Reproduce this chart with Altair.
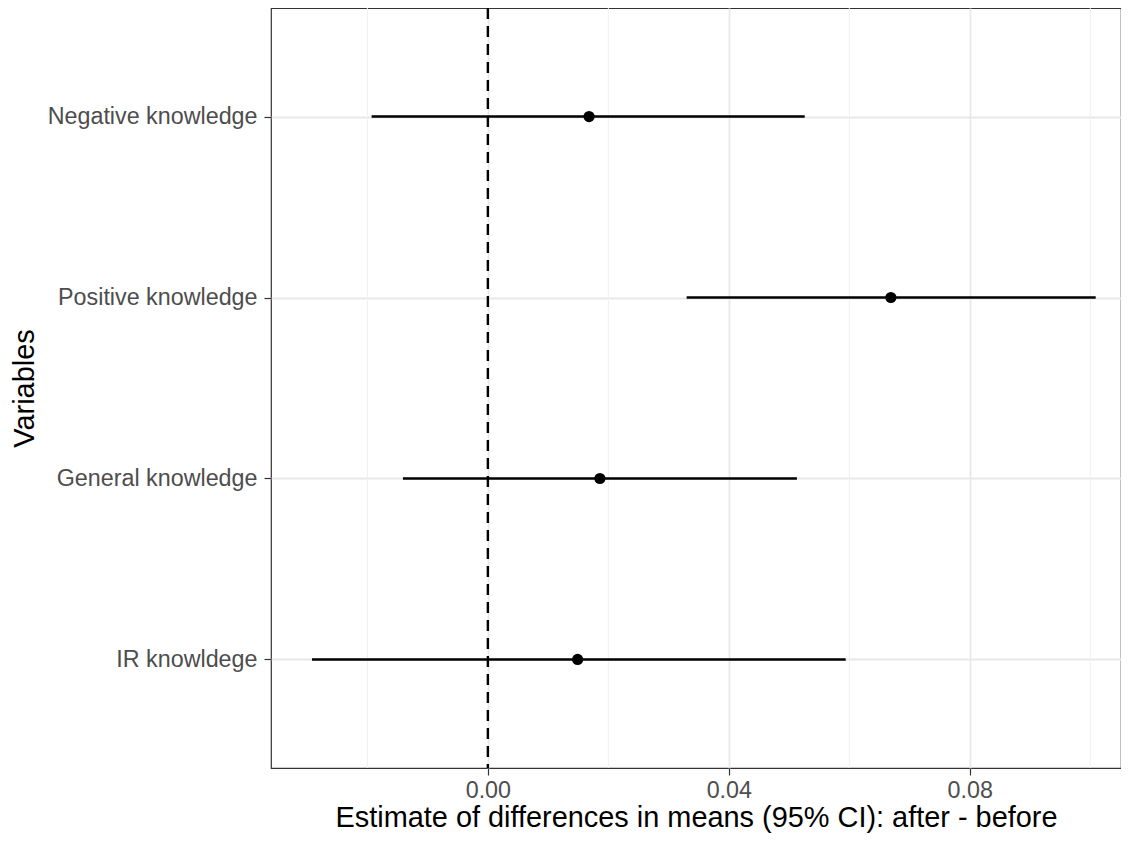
import altair as alt
import pandas as pd

variables = ["Negative knowledge", "Positive knowledge", "General knowledge", "IR knowldege"]
estimates = [0.0168, 0.0669, 0.0186, 0.0149]
lower = [-0.0193, 0.0330, -0.0141, -0.0292]
upper = [0.0526, 0.1009, 0.0513, 0.0594]
major_ticks = [0.00, 0.04, 0.08]
minor_ticks = [-0.02, 0.02, 0.06, 0.10]

df = pd.DataFrame({"var": variables, "est": estimates, "lo": lower, "hi": upper})
minor_df = pd.DataFrame({"x": minor_ticks})
zero_df = pd.DataFrame({"x": [0.0]})

FONT = "Liberation Sans"
xscale = alt.Scale(domain=[-0.0360, 0.1051], nice=False, zero=False)
yscale = alt.Scale(domain=variables, type="point", padding=0.6)

minor = alt.Chart(minor_df).mark_rule(color="#f0f0f0", strokeWidth=1).encode(
    x=alt.X("x:Q", scale=xscale)
)

base = alt.Chart(df)
ci = base.mark_rule(color="black", strokeWidth=2.5).encode(
    x=alt.X("lo:Q", scale=xscale,
            axis=alt.Axis(values=major_ticks, format=".2f",
                          title="Estimate of differences in means (95% CI): after - before",
                          grid=True, gridColor="#e8e8e8", gridWidth=1.8)),
    x2="hi:Q",
    y=alt.Y("var:N", scale=yscale, sort=variables,
            axis=alt.Axis(title="Variables", grid=True, gridColor="#e8e8e8", gridWidth=1.8)),
)
pts = base.mark_circle(color="black", size=125, opacity=1).encode(
    x=alt.X("est:Q", scale=xscale),
    y=alt.Y("var:N", scale=yscale, sort=variables),
)
zero = alt.Chart(zero_df).mark_rule(color="black", strokeWidth=2.4, strokeDash=[11, 7]).encode(
    x=alt.X("x:Q", scale=xscale)
)

chart = alt.layer(minor, ci, zero, pts).properties(
    width=850, height=760,
    autosize=alt.AutoSizeParams(type="none"),
    padding={"left": 263, "top": 0, "right": 0, "bottom": 66},
).configure_view(
    stroke="#333333", strokeWidth=1.2
).configure_axis(
    labelFont=FONT, titleFont=FONT,
    labelFontSize=23.3, titleFontSize=28.9,
    labelColor="#4d4d4d", titleColor="black",
    titleFontWeight="normal",
    tickColor="#333333", tickSize=7, tickWidth=1.2,
    domain=False, labelLimit=0,
).configure_axisX(
    labelPadding=4, titleY=58, titleBaseline="alphabetic",
).configure_axisY(
    labelPadding=7, titleX=-238, titleY=380, titleAngle=-90, titleBaseline="alphabetic",
)

chart.save("out.html", embed_options={"renderer": "svg", "actions": False})
